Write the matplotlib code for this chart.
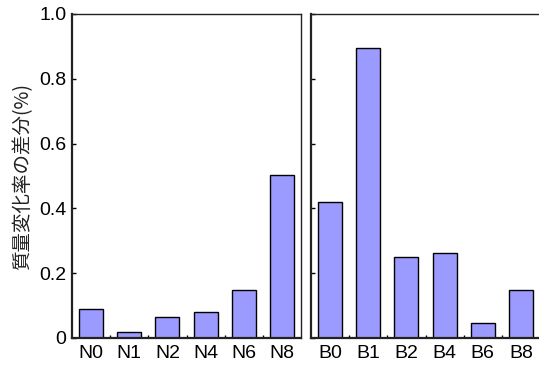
import matplotlib
matplotlib.use("Agg")
import matplotlib.pyplot as plt
import numpy as np

plt.rcParams['font.family'] = ['Liberation Sans', 'Noto Sans CJK JP', 'DejaVu Sans']

n_labels = ["N0", "N1", "N2", "N4", "N6", "N8"]
n_values = [0.09, 0.017, 0.064, 0.080, 0.147, 0.503]
b_labels = ["B0", "B1", "B2", "B4", "B6", "B8"]
b_values = [0.42, 0.894, 0.25, 0.263, 0.045, 0.147]
y_ticks = [0, 0.2, 0.4, 0.6, 0.8, 1.0]
y_ticklabels = ["0", "0.2", "0.4", "0.6", "0.8", "1.0"]
ylabel = "質量変化率の差分(%)"

W, H = 539, 367
fig = plt.figure(figsize=(W / 100, H / 100), dpi=100)

bottom = (H - 338) / H
height = (338 - 14) / H
ax1 = fig.add_axes([72 / W, bottom, 229 / W, height])
ax2 = fig.add_axes([311 / W, bottom, 229 / W, height])

bar_color = "#9b9bff"

for ax, labels, vals in [(ax1, n_labels, n_values), (ax2, b_labels, b_values)]:
    x = np.arange(len(labels))
    ax.bar(x, vals, width=0.63, color=bar_color, edgecolor="black", linewidth=1.0)
    ax.set_xlim(-0.5, len(labels) - 0.5)
    ax.set_ylim(0, 1.0)
    ax.set_xticks(x)
    ax.set_xticklabels(labels, fontsize=14)
    ax.set_xticks(x[:-1] + 0.5, minor=True)
    ax.tick_params(axis="x", which="major", length=0, pad=5)
    ax.tick_params(axis="x", which="minor", direction="in", length=2, width=1)
    ax.set_yticks(y_ticks)
    ax.tick_params(axis="y", direction="in", length=3, width=1, pad=4)
    for s in ax.spines.values():
        s.set_linewidth(1.0)
        s.set_color("#222222")
    ax.spines["left"].set_linewidth(1.6)
    ax.spines["bottom"].set_linewidth(1.6)

ax1.set_yticklabels(y_ticklabels, fontsize=14)
ax2.set_yticklabels([])
ax1.set_ylabel(ylabel, fontsize=14, color="#222222",
               family=['Noto Sans CJK JP', 'Liberation Sans'], labelpad=4)

fig.savefig("out.png", dpi=100)
